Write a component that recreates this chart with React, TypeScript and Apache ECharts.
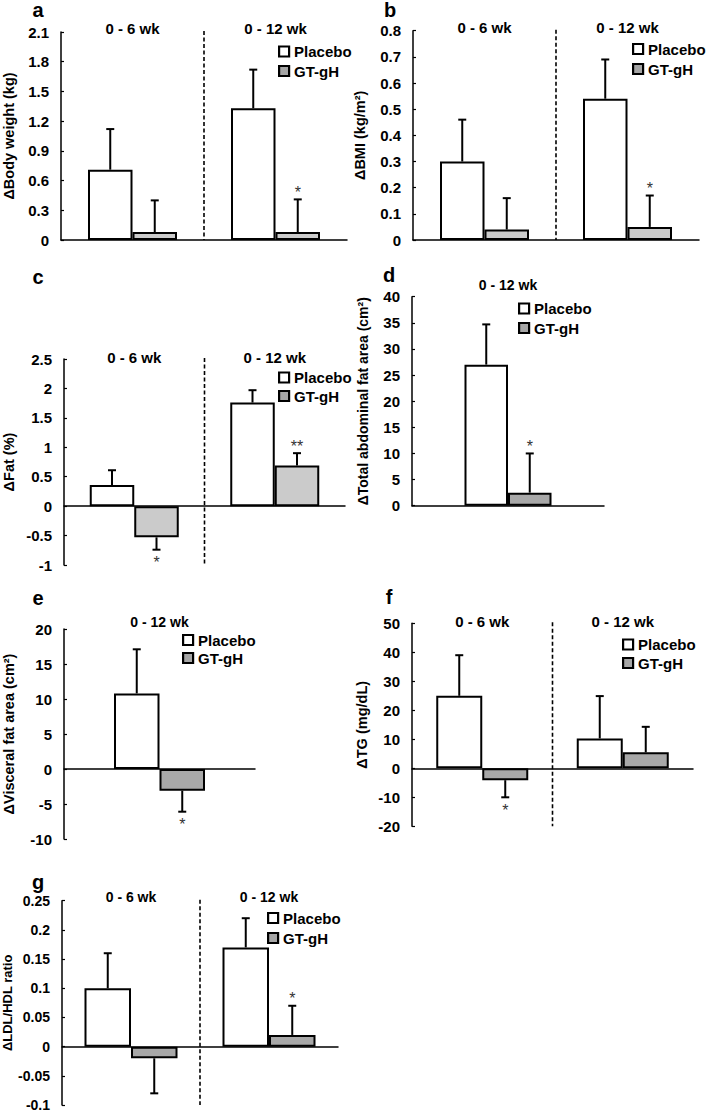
import React, { useEffect, useRef } from "react";
import * as echarts from "echarts";

const FONT = "'Liberation Sans', Arial, Helvetica, sans-serif";

// ---------- data ----------
const periods2 = ["0 - 6 wk", "0 - 12 wk"];
const periods1 = ["0 - 12 wk"];
const groupNames = ["Placebo", "GT-gH"];

// a: Body weight (kg)
const aPlacebo = [0.71, 1.33];
const aPlaceboErr = [0.41, 0.39];
const aGt = [0.08, 0.08];
const aGtErr = [0.32, 0.33];
const aGtSig = ["", "*"];
const aTicks = [0, 2.1, 0.3];

// b: BMI
const bPlacebo = [0.3, 0.54];
const bPlaceboErr = [0.16, 0.15];
const bGt = [0.04, 0.05];
const bGtErr = [0.12, 0.12];
const bGtSig = ["", "*"];
const bTicks = [0, 0.8, 0.1];

// c: Fat (%)
const cPlacebo = [0.36, 1.76];
const cPlaceboErr = [0.25, 0.21];
const cGt = [-0.53, 0.69];
const cGtErr = [0.21, 0.21];
const cGtSig = ["*", "**"];
const cTicks = [-1, 2.5, 0.5];

// d: Total abdominal fat area
const dPlacebo = [27];
const dPlaceboErr = [7.7];
const dGt = [2.5];
const dGtErr = [7.5];
const dGtSig = ["*"];
const dTicks = [0, 40, 5];

// e: Visceral fat area
const ePlacebo = [10.8];
const ePlaceboErr = [6.3];
const eGt = [-3.1];
const eGtErr = [3.0];
const eGtSig = ["*"];
const eTicks = [-10, 20, 5];

// f: TG
const fPlacebo = [25, 10.3];
const fPlaceboErr = [14, 14.6];
const fGt = [-4.1, 5.5];
const fGtErr = [5.9, 8.8];
const fGtSig = ["*", ""];
const fTicks = [-20, 50, 10];

// g: LDL/HDL ratio
const gPlacebo = [0.1, 0.17];
const gPlaceboErr = [0.06, 0.05];
const gGt = [-0.02, 0.02];
const gGtErr = [0.06, 0.05];
const gGtSig = ["", "*"];
const gTicks = [-0.1, 0.25, 0.05];

const panels = [
  { letter: "a", cats: periods2, placebo: aPlacebo, placeboErr: aPlaceboErr, gt: aGt, gtErr: aGtErr, gtSig: aGtSig, ticks: aTicks, yName: "ΔBody weight (kg)", gtColor: "#cbcbcb" },
  { letter: "b", cats: periods2, placebo: bPlacebo, placeboErr: bPlaceboErr, gt: bGt, gtErr: bGtErr, gtSig: bGtSig, ticks: bTicks, yName: "ΔBMI (kg/m²)", gtColor: "#cbcbcb" },
  { letter: "c", cats: periods2, placebo: cPlacebo, placeboErr: cPlaceboErr, gt: cGt, gtErr: cGtErr, gtSig: cGtSig, ticks: cTicks, yName: "ΔFat (%)", gtColor: "#cbcbcb" },
  { letter: "d", cats: periods1, placebo: dPlacebo, placeboErr: dPlaceboErr, gt: dGt, gtErr: dGtErr, gtSig: dGtSig, ticks: dTicks, yName: "ΔTotal abdominal fat area (cm²)", gtColor: "#a8a8a8" },
  { letter: "e", cats: periods1, placebo: ePlacebo, placeboErr: ePlaceboErr, gt: eGt, gtErr: eGtErr, gtSig: eGtSig, ticks: eTicks, yName: "ΔVisceral fat area (cm²)", gtColor: "#a8a8a8" },
  { letter: "f", cats: periods2, placebo: fPlacebo, placeboErr: fPlaceboErr, gt: fGt, gtErr: fGtErr, gtSig: fGtSig, ticks: fTicks, yName: "ΔTG (mg/dL)", gtColor: "#a8a8a8" },
  { letter: "g", cats: periods2, placebo: gPlacebo, placeboErr: gPlaceboErr, gt: gGt, gtErr: gGtErr, gtSig: gGtSig, ticks: gTicks, yName: "ΔLDL/HDL ratio", gtColor: "#a8a8a8" },
];

// ---------- layout (pixels) ----------
const layouts = [
  { grid: [60, 32, 287, 208], legend: [278, 51.5, 19.5], letter: [38, 10], barW: 44.5, nameGap: 45, catMargin: -4, tickSize: 15, catSize: 15, nameSize: 14.5 },
  { grid: [413, 30.7, 286, 209.3], legend: [632, 49, 20], letter: [390, 10], barW: 44.5, nameGap: 46, catMargin: -4.3, tickSize: 15, catSize: 15, nameSize: 14.5 },
  { grid: [61, 359, 284, 206], legend: [278, 377.5, 18.5], letter: [38, 277], barW: 44.5, nameGap: 48, catMargin: -6, tickSize: 15, catSize: 15, nameSize: 14.5 },
  { grid: [412, 296.7, 192, 209], legend: [518, 308.5, 19.5], letter: [389, 275], barW: 43.5, nameGap: 42, catMargin: 3.7, tickSize: 15, catSize: 14, nameSize: 14 },
  { grid: [61, 629, 194, 210], legend: [182, 640, 18], letter: [38, 598], barW: 45.5, nameGap: 48, catMargin: -1, tickSize: 15, catSize: 14, nameSize: 14.5 },
  { grid: [412, 623.3, 281, 203], legend: [622, 644.5, 18.5], letter: [389, 597], barW: 46, nameGap: 43, catMargin: -5.7, tickSize: 15, catSize: 15, nameSize: 14.5 },
  { grid: [61, 900.7, 277, 204.3], legend: [267, 918, 20], letter: [38, 882], barW: 46.5, nameGap: 48, catMargin: -4.3, tickSize: 14, catSize: 14, nameSize: 13 },
];

function errSeries(name: string, xi: number, yi: number, means: number[], errs: number[], offset: number, sigs: string[]) {
  return {
    type: "custom",
    name,
    xAxisIndex: xi,
    yAxisIndex: yi,
    clip: false,
    silent: true,
    z: 3,
    encode: { x: 0, y: [1, 2] },
    data: means.map((m, i) => [i, m, m + (m < 0 ? -1 : 1) * errs[i]]),
    renderItem: (params: any, api: any) => {
      const i = api.value(0);
      const m = api.value(1);
      const e = api.value(2);
      const p0 = api.coord([i, m]);
      const p1 = api.coord([i, e]);
      const x = p0[0] + offset;
      const up = e >= m;
      const children: any[] = [
        { type: "line", shape: { x1: x, y1: p0[1], x2: x, y2: p1[1] }, style: { stroke: "#000", lineWidth: 2 } },
        { type: "line", shape: { x1: x - 4, y1: p1[1], x2: x + 4, y2: p1[1] }, style: { stroke: "#000", lineWidth: 2 } },
      ];
      const s = sigs[params.dataIndex];
      if (s) {
        children.push({
          type: "text",
          style: {
            text: s,
            x,
            y: up ? p1[1] - 7 : p1[1] + 13,
            align: "center",
            verticalAlign: "middle",
            fontSize: 16,
            fontFamily: FONT,
            fill: "#333",
          },
        });
      }
      return { type: "group", children };
    },
  };
}

function dividerSeries(name: string, xi: number, yi: number) {
  return {
    type: "custom",
    name,
    xAxisIndex: xi,
    yAxisIndex: yi,
    clip: false,
    silent: true,
    z: 1,
    data: [[0, 0]],
    renderItem: (params: any, api: any) => {
      const cs = params.coordSys;
      const a = api.coord([0, 0])[0];
      const b = api.coord([1, 0])[0];
      const x = (a + b) / 2;
      return {
        type: "line",
        shape: { x1: x, y1: cs.y - 1, x2: x, y2: cs.y + cs.height },
        style: { stroke: "#000", lineWidth: 1.6, lineDash: [4, 2.5] },
      };
    },
  };
}

function buildOption() {
  const grid: any[] = [];
  const xAxis: any[] = [];
  const yAxis: any[] = [];
  const series: any[] = [];
  const legend: any[] = [];
  const graphic: any[] = [];

  panels.forEach((p, k) => {
    const L = layouts[k];
    grid.push({ left: L.grid[0], top: L.grid[1], width: L.grid[2], height: L.grid[3], containLabel: false });
    xAxis.push({
      type: "category",
      gridIndex: k,
      data: p.cats,
      position: "bottom",
      axisLine: { show: true, onZero: true, lineStyle: { color: "#000", width: 1.5 } },
      axisTick: { show: false },
      axisLabel: { show: false },
      splitLine: { show: false },
    });
    xAxis.push({
      type: "category",
      gridIndex: k,
      data: p.cats,
      position: "top",
      axisLine: { show: false, onZero: false },
      axisTick: { show: false },
      axisLabel: { show: true, margin: L.catMargin, fontSize: L.catSize, fontWeight: "bold", color: "#000", fontFamily: FONT, lineHeight: 16 },
      splitLine: { show: false },
    });
    yAxis.push({
      type: "value",
      gridIndex: k,
      min: p.ticks[0],
      max: p.ticks[1],
      interval: p.ticks[2],
      name: p.yName,
      nameLocation: "middle",
      nameGap: L.nameGap,
      nameTextStyle: { fontSize: L.nameSize, fontWeight: "bold", color: "#000", fontFamily: FONT },
      axisLine: { show: true, lineStyle: { color: "#000", width: 1.5 } },
      axisTick: { show: true, inside: true, length: 3, lineStyle: { color: "#000", width: 1.2 } },
      axisLabel: { margin: 12, fontSize: L.tickSize, fontWeight: "bold", color: "#000", fontFamily: FONT },
      splitLine: { show: false },
    });
    const xi = k * 2;
    series.push({
      type: "bar",
      name: groupNames[0],
      xAxisIndex: xi,
      yAxisIndex: k,
      data: p.placebo,
      barWidth: L.barW,
      barGap: "0%",
      z: 2,
      itemStyle: { color: "#ffffff", borderColor: "#000", borderWidth: 2 },
    });
    series.push({
      type: "bar",
      name: groupNames[1],
      xAxisIndex: xi,
      yAxisIndex: k,
      data: p.gt,
      barWidth: L.barW,
      barGap: "0%",
      z: 2,
      itemStyle: { color: p.gtColor, borderColor: "#000", borderWidth: 2 },
    });
    series.push(errSeries("err-p-" + p.letter, xi, k, p.placebo, p.placeboErr, -L.barW / 2, []));
    series.push(errSeries("err-g-" + p.letter, xi, k, p.gt, p.gtErr, L.barW / 2, p.gtSig));
    if (p.cats.length > 1) series.push(dividerSeries("div-" + p.letter, xi, k));

    legend.push({
      left: L.legend[0],
      top: L.legend[1] - 8,
      orient: "vertical",
      icon: "rect",
      itemWidth: 10,
      itemHeight: 10,
      itemGap: L.legend[2] - 16,
      padding: 0,
      selectedMode: false,
      data: [
        { name: groupNames[0], itemStyle: { color: "#ffffff", borderColor: "#000", borderWidth: 2.2 } },
        { name: groupNames[1], itemStyle: { color: "#a6a6a6", borderColor: "#000", borderWidth: 2.2 } },
      ],
      textStyle: { fontSize: 15, fontWeight: "bold", color: "#000", fontFamily: FONT, lineHeight: 16 },
    });

    graphic.push({
      type: "text",
      x: L.letter[0],
      y: L.letter[1],
      style: {
        text: p.letter,
        align: "center",
        verticalAlign: "middle",
        fontSize: 20,
        fontWeight: "bold",
        fontFamily: FONT,
        fill: "#000",
      },
    });
  });

  return { animation: false, backgroundColor: "#ffffff", grid, xAxis, yAxis, series, legend, graphic };
}

export default function App() {
  const ref = useRef<HTMLDivElement>(null);
  useEffect(() => {
    document.body.style.margin = "0";
    if (!ref.current) return;
    const chart = echarts.init(ref.current, null, { renderer: "svg" });
    chart.setOption(buildOption() as any);
    return () => chart.dispose();
  }, []);
  return <div ref={ref} style={{ width: 708, height: 1112 }} />;
}
